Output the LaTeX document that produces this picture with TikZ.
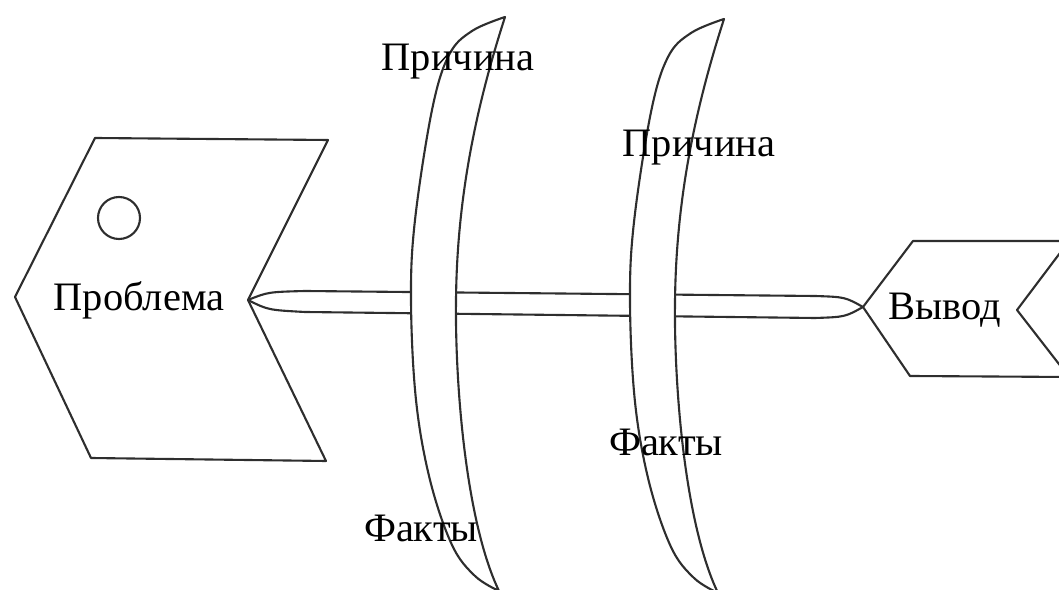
\documentclass[tikz,border=0pt]{standalone}
\usepackage{fontspec}
\setmainfont{Liberation Serif}
\usetikzlibrary{positioning}
\definecolor{ink}{HTML}{2E2E2E}
\tikzset{
  every node/.style={font=\fontsize{23}{27}\selectfont, text=black, inner sep=0pt},
  outline/.style={draw=ink, line width=1.2pt, line join=round},
  bone/.style={outline, fill=white},
}

\begin{document}
\begin{tikzpicture}[x=0.02cm, y=-0.02cm]
\useasboundingbox (0,0) rectangle (1059,590);
\clip (0,0) rectangle (1059,590);
\coordinate (pn) at (248,300);
\coordinate (vt) at (863,307);
\draw[outline] (15,297) -- (95,138) -- (328,140) -- (pn) -- (326,461) -- (91,458) -- cycle;
\draw[outline] (vt) -- (913,241) -- (1069,241) -- (1017,310) -- (1069,377) -- (910,376) -- cycle;
\draw[outline] (119,218) circle[radius=21];
\draw[outline] (pn) .. controls (268,292) .. (305,291) -- (815,296) .. controls (845,297) .. (vt);
\draw[outline] (pn) .. controls (268,310) .. (305,312) -- (815,318) .. controls (845,317) .. (vt);
\foreach \dx/\dy in {0/0,219/2}
  \draw[bone, shift={(\dx,\dy)}]
    plot[smooth, tension=0.6] coordinates {(505,17) (472,31) (449,55) (432,110) (415,220) (411,300) (416,400) (430,480) (452,545) (475,576) (499,591)}
    .. controls (465,520) and (455,380) .. (456,300) .. controls (457,200) and (475,110) .. (505,17)
    -- cycle;
\node (prob) at (139,300) {Проблема};
\node (cause1) at (458,62) {Причина};
\node (cause2) at (699,148) {Причина};
\node (fact1) at (421,528) {Факты};
\node (fact2) at (666,442) {Факты};
\node (vyvod) at (945,310) {Вывод};
\end{tikzpicture}
\end{document}
